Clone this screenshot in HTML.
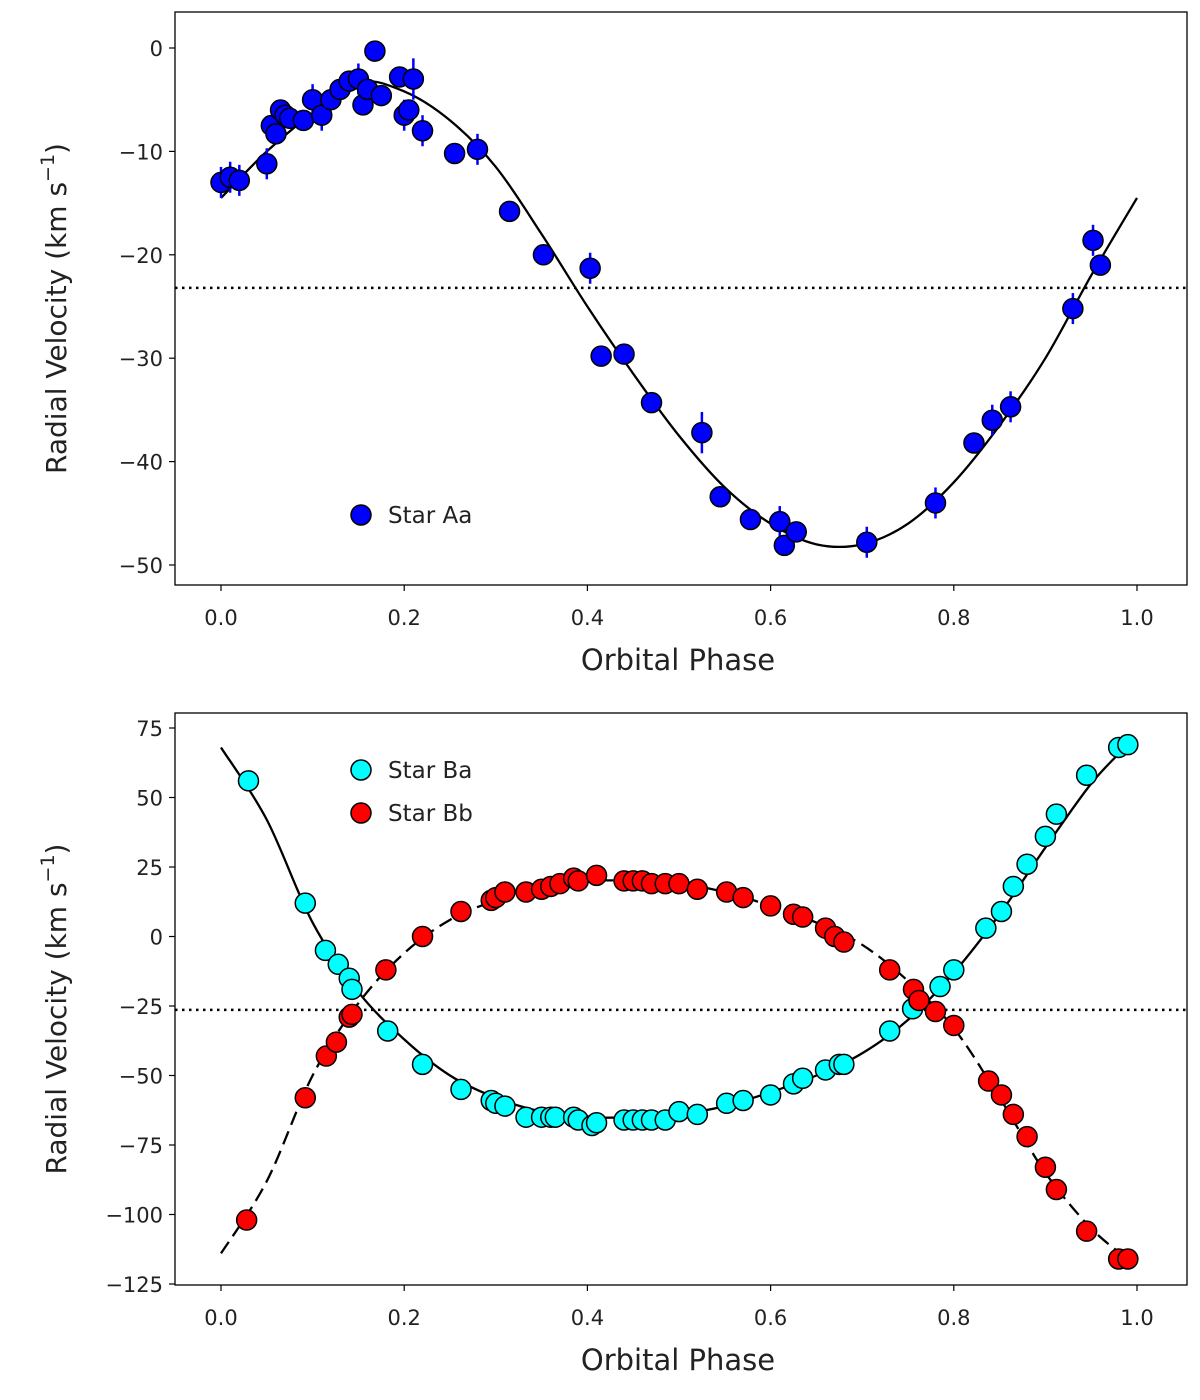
<!DOCTYPE html>
<html><head><meta charset="utf-8"><style>
body{margin:0;background:#fff;}
svg text{font-family:"DejaVu Sans","Liberation Sans",sans-serif;fill:#222;}
</style></head><body>
<svg id="c" width="1200" height="1395" xmlns="http://www.w3.org/2000/svg"></svg>
<script>
// ---- Top panel data ----
const aaPhase=[0.0,0.01,0.02,0.05,0.055,0.06,0.065,0.07,0.075,0.09,0.1,0.11,0.12,0.13,0.14,0.15,0.155,0.16,0.168,0.175,0.195,0.2,0.205,0.21,0.22,0.255,0.28,0.315,0.352,0.403,0.415,0.44,0.47,0.525,0.545,0.578,0.61,0.615,0.628,0.705,0.78,0.822,0.842,0.862,0.93,0.952,0.96];
const aaRV=[-13,-12.5,-12.8,-11.2,-7.5,-8.3,-6,-6.5,-6.8,-7,-5,-6.5,-5,-4,-3.2,-3,-5.5,-4,-0.3,-4.6,-2.8,-6.5,-6,-3,-8,-10.2,-9.8,-15.8,-20,-21.3,-29.8,-29.6,-34.3,-37.2,-43.4,-45.6,-45.8,-48.1,-46.8,-47.8,-44,-38.2,-36,-34.7,-25.2,-18.6,-21];
const aaErr=[1.5,1.5,1.5,1.5,1,1,1,1,1,1,1.5,1.5,1,1,1,1.5,1,1,1,1,1,1.5,1,2,1.5,1,1.5,1,1,1.5,1,1,1,2,1,1,1.5,1,1,1.5,1.5,1,1.5,1.5,1.5,1.5,1];
const modelPhase=[0,0.05,0.1,0.15,0.2,0.25,0.3,0.35,0.4,0.45,0.5,0.55,0.6,0.65,0.7,0.75,0.8,0.85,0.9,0.95,1.0];
const aaModel=[-14.5,-10,-6.3,-3.3,-4.2,-7,-11.5,-18,-25,-31.5,-37.5,-42.5,-46,-48,-48,-46,-42,-36.5,-30,-22,-14.5];
const aaGamma=-23.2;
const topYTicks=[0,-10,-20,-30,-40,-50];
const xTicks=[0,0.2,0.4,0.6,0.8,1.0];
// ---- Bottom panel data ----
const baPhase=[0.03,0.092,0.114,0.128,0.14,0.143,0.182,0.22,0.262,0.295,0.3,0.31,0.333,0.35,0.36,0.365,0.385,0.39,0.405,0.41,0.44,0.45,0.46,0.47,0.485,0.5,0.52,0.552,0.57,0.6,0.625,0.635,0.66,0.675,0.68,0.73,0.755,0.785,0.8,0.835,0.852,0.865,0.88,0.9,0.912,0.945,0.98,0.99];
const baRV=[56,12,-5,-10,-15,-19,-34,-46,-55,-59,-60,-61,-65,-65,-65,-65,-65,-66,-68,-67,-66,-66,-66,-66,-66,-63,-64,-60,-59,-57,-53,-51,-48,-46,-46,-34,-26,-18,-12,3,9,18,26,36,44,58,68,69];
const bbPhase=[0.028,0.092,0.115,0.126,0.14,0.143,0.18,0.22,0.262,0.295,0.3,0.31,0.333,0.35,0.36,0.37,0.385,0.39,0.41,0.44,0.45,0.46,0.47,0.485,0.5,0.52,0.552,0.57,0.6,0.625,0.635,0.66,0.67,0.68,0.73,0.756,0.762,0.78,0.8,0.838,0.852,0.865,0.88,0.9,0.912,0.945,0.98,0.99];
const bbRV=[-102,-58,-43,-38,-29,-28,-12,0,9,13,14,16,16,17,18,19,21,20,22,20,20,20,19,19,19,17,16,14,11,8,7,3,0,-2,-12,-19,-23,-27,-32,-52,-57,-64,-72,-83,-91,-106,-116,-116];
const bModelPhase=[0,0.05,0.1,0.15,0.2,0.25,0.3,0.35,0.4,0.45,0.5,0.55,0.6,0.65,0.7,0.75,0.8,0.85,0.9,0.95,0.99];
const baModel=[68,42,5,-20,-37,-50,-58,-63,-65,-65,-64,-61,-56,-50,-42,-30,-13,8,32,55,69];
const bbModel=[-114,-88,-50,-24,-6,6,13,18,20,20,19,16,11,5,-3,-16,-33,-58,-85,-105,-116];
const bGamma=-26.4;
const botYTicks=[75,50,25,0,-25,-50,-75,-100,-125];

const svg=document.getElementById('c');
const NS='http://www.w3.org/2000/svg';
function mk(tag,attrs,parent){const e=document.createElementNS(NS,tag);for(const k in attrs)e.setAttribute(k,attrs[k]);(parent||svg).appendChild(e);return e;}
function smooth(pts){let d='M'+pts[0][0]+','+pts[0][1];for(let i=0;i<pts.length-1;i++){const p0=pts[Math.max(0,i-1)],p1=pts[i],p2=pts[i+1],p3=pts[Math.min(pts.length-1,i+2)];
const c1=[p1[0]+(p2[0]-p0[0])/6,p1[1]+(p2[1]-p0[1])/6],c2=[p2[0]-(p3[0]-p1[0])/6,p2[1]-(p3[1]-p1[1])/6];d+=' C'+c1+' '+c2+' '+p2;}return d;}

function panel(name,box,vA,pxA,vB,pxB,yTicks){
  const g=mk('g',{});
  
  
  const X=v=>221+v*916;
  const Y=v=>pxA+(v-vA)*(pxB-pxA)/(vB-vA);
  const fr=mk('rect',{x:box[0],y:box[1],width:box[2]-box[0],height:box[3]-box[1],fill:'none',stroke:'#000','stroke-width':1.3},g);
  
  
  xTicks.forEach(t=>{mk('line',{x1:X(t),x2:X(t),y1:box[3],y2:box[3]+6,stroke:'#000','stroke-width':1.2},g);
    const tx=mk('text',{x:X(t),y:box[3]+40,'text-anchor':'middle','font-size':21},g);tx.textContent=t.toFixed(1);
    
    });
  yTicks.forEach(t=>{mk('line',{x1:box[0]-6,x2:box[0],y1:Y(t),y2:Y(t),stroke:'#000','stroke-width':1.2},g);
    const tx=mk('text',{x:box[0]-12,y:Y(t)+8,'text-anchor':'end','font-size':21},g);tx.textContent=(t<0?'\u2212'+(-t):t);
    
    });
  const xl=mk('text',{x:678,y:box[3]+85,'text-anchor':'middle','font-size':29},g);xl.textContent='Orbital Phase';
  
  
  const cy=(box[1]+box[3])/2+10;
  const yl=mk('text',{x:0,y:0,'text-anchor':'middle','font-size':28,transform:`translate(66,${cy}) rotate(-90)`},g);
  yl.innerHTML='Radial Velocity (km s<tspan dy="-12" font-size="19">\u22121</tspan><tspan dy="12">)</tspan>';
  
  
  return {g,X,Y};
}
function circle(g,x,y,fill,name){const c=mk('circle',{cx:x,cy:y,r:10,fill:fill,stroke:'#000','stroke-width':1.5},g);
  
  return c;}

// top
const T=panel('top-panel',[175,12,1187,585],0,48,-50,565,topYTicks);
const gl=mk('line',{x1:175,x2:1187,y1:T.Y(aaGamma),y2:T.Y(aaGamma),stroke:'#000','stroke-width':2.5,'stroke-dasharray':'2.5,4.5'},T.g);


const mc=mk('path',{d:smooth(modelPhase.map((p,i)=>[T.X(p),T.Y(aaModel[i])])),fill:'none',stroke:'#000','stroke-width':2.3},T.g);


aaPhase.forEach((p,i)=>{const e=mk('line',{x1:T.X(p),x2:T.X(p),y1:T.Y(aaRV[i]-aaErr[i]),y2:T.Y(aaRV[i]+aaErr[i]),stroke:'#0000ff','stroke-width':2.5},T.g);
  
  });
aaPhase.forEach((p,i)=>circle(T.g,T.X(p),T.Y(aaRV[i]),'#0000ff','aa-point'));
circle(T.g,361,515,'#0000ff','legend-marker-aa');
let lt=mk('text',{x:388,y:523,'font-size':23},T.g);lt.textContent='Star Aa';



// bottom
const B=panel('bottom-panel',[175,713,1187,1285],75,728,-125,1284,botYTicks);
const gl2=mk('line',{x1:175,x2:1187,y1:B.Y(bGamma),y2:B.Y(bGamma),stroke:'#000','stroke-width':2.5,'stroke-dasharray':'2.5,4.5'},B.g);


const ca=mk('path',{d:smooth(bModelPhase.map((p,i)=>[B.X(p),B.Y(baModel[i])])),fill:'none',stroke:'#000','stroke-width':2.3},B.g);


const cb=mk('path',{d:smooth(bModelPhase.map((p,i)=>[B.X(p),B.Y(bbModel[i])])),fill:'none',stroke:'#000','stroke-width':2.3,'stroke-dasharray':'14,7'},B.g);


baPhase.forEach((p,i)=>circle(B.g,B.X(p),B.Y(baRV[i]),'#00ffff','ba-point'));
bbPhase.forEach((p,i)=>circle(B.g,B.X(p),B.Y(bbRV[i]),'#ff0000','bb-point'));
circle(B.g,361,770,'#00ffff','legend-marker-ba');
lt=mk('text',{x:388,y:778,'font-size':23},B.g);lt.textContent='Star Ba';


circle(B.g,361,813,'#ff0000','legend-marker-bb');
lt=mk('text',{x:388,y:821,'font-size':23},B.g);lt.textContent='Star Bb';


</script>
</body></html>
